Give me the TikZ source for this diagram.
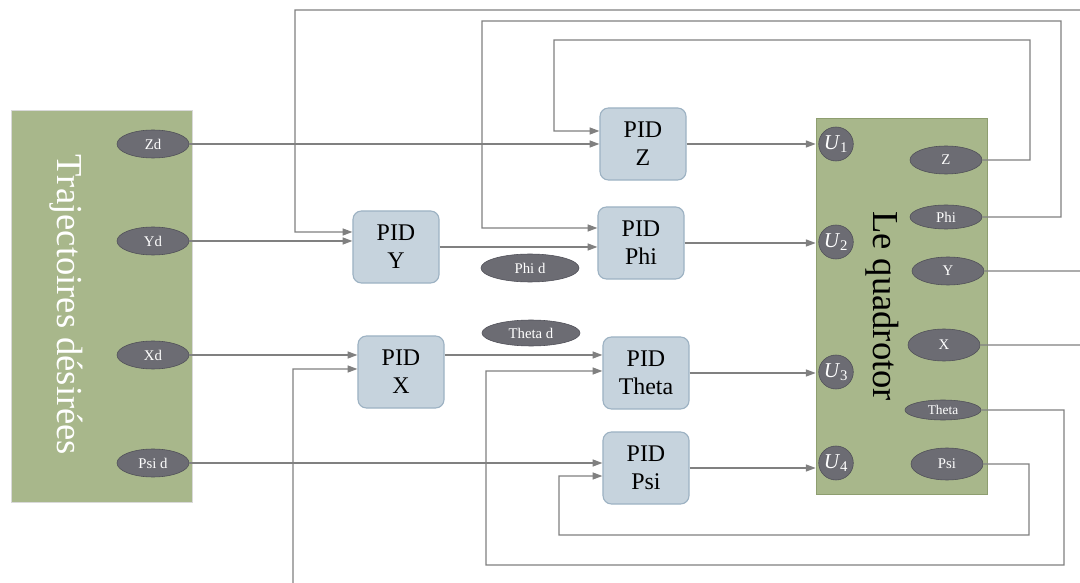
\documentclass[tikz,border=0pt]{standalone}
\usepackage{fontspec}
\setmainfont{Liberation Serif}
\usetikzlibrary{shapes.geometric,arrows.meta}

\definecolor{panelgreen}{HTML}{A8B78B}
\definecolor{quadedge}{HTML}{8E9E70}
\definecolor{sigfill}{HTML}{6C6C73}
\definecolor{sigedge}{HTML}{4F4F57}
\definecolor{pidfill}{HTML}{C6D3DD}
\definecolor{pidedge}{HTML}{9DB2C3}
\definecolor{wirec}{HTML}{808080}

\begin{document}
\begin{tikzpicture}[x=0.025cm,y=-0.025cm,
  sig/.style={ellipse,draw=sigedge,fill=sigfill,text=white,inner sep=0pt,
    minimum width=1.8cm,minimum height=0.7cm,font=\fontsize{10.5}{12}\selectfont},
  unode/.style={ellipse,draw=sigedge,fill=sigfill,text=white,inner sep=0pt,
    minimum width=0.65cm,minimum height=0.85cm,font=\fontsize{15}{16}\selectfont},
  pidbox/.style={draw=pidedge,fill=pidfill,rounded corners=6pt,line width=0.8pt,
    minimum width=2.15cm,minimum height=1.8cm,align=center,inner sep=0pt,
    font=\fontsize{17}{20}\selectfont},
  wire/.style={draw=wirec,line width=1pt},
  tip/.style={-{Triangle[length=7pt,width=5pt]}}]
  \useasboundingbox (0,0) rectangle (1080,583);
  \clip (0,0) rectangle (1080,583);

  % panels
  \node[draw=black!15,fill=panelgreen,minimum width=4.525cm,minimum height=9.8cm] (traj) at (101.5,306) {};
  \node[rotate=-90,text=white,font=\fontsize{26}{28}\selectfont] at (66,305) {Trajectoires désirées};
  \node[draw=quadedge,fill=panelgreen,minimum width=4.275cm,minimum height=9.4cm] (quad) at (901.5,306) {};
  \node[rotate=-90,font=\fontsize{26}{28}\selectfont] at (882,306) {Le quadrotor};

  % references
  \foreach \nm/\y/\txt in {zd/144/Zd,yd/241/Yd,xd/355/Xd,psid/463/Psi d}{
    \node[sig] (\nm) at (153,\y) {\txt};
  }
  \node[sig,minimum width=2.45cm] (phid) at (530,268) {Phi d};
  \node[sig,minimum width=2.45cm,minimum height=0.65cm] (thetad) at (531,333) {Theta d};

  % controllers
  \foreach \nm/\x/\y/\lbl in {pidz/643/144/Z,pidy/396/247/Y,pidphi/641/243/Phi,
    pidx/401/372/X,pidtheta/646/373/Theta,pidpsi/646/468/Psi}{
    \node[pidbox] (\nm) at (\x,\y) {PID\\\lbl};
  }

  % quadrotor inputs and outputs
  \foreach \i/\y in {1/144,2/242,3/372,4/463}{
    \node[unode] (u\i) at (836,\y) {\textit{U}\textsubscript{\i}};
  }
  \node[sig] (zout) at (946,160) {Z};
  \node[sig,minimum height=0.6cm] (phiout) at (946,217) {Phi};
  \node[sig] (yout) at (948,271) {Y};
  \node[sig,minimum height=0.8cm] (xout) at (944,345) {X};
  \node[sig,minimum width=1.9cm,minimum height=0.5cm,font=\fontsize{9.5}{11}\selectfont] (thetaout) at (943,410) {Theta};
  \node[sig,minimum height=0.8cm] (psiout) at (947,464) {Psi};

  % forward paths
  \draw[wire,tip] (zd.east) -- (zd -| pidz.west);
  \draw[wire,tip] (yd.east) -- (yd -| pidy.west);
  \draw[wire,tip] (xd.east) -- (xd -| pidx.west);
  \draw[wire,tip] (psid.east) -- (psid -| pidpsi.west);
  \draw[wire,tip] (pidy.east) -- (pidy.east -| pidphi.west);
  \draw[wire,tip] (xd -| pidx.east) -- (xd -| pidtheta.west);
  \foreach \c/\u in {pidz/u1,pidphi/u2,pidtheta/u3,pidpsi/u4}{
    \draw[wire,tip] (\c.east) -- (\c.east -| quad.west);
  }

  % feedback loops
  \draw[wire,tip] (zout.east) -| (1030,40) -| (554,131) -- ([yshift=0.325cm]pidz.west);
  \draw[wire,tip] (phiout.east) -| (1061,21) -| (482,228) -- ([yshift=0.375cm]pidphi.west);
  \draw[wire,tip] (yout.east) -- (1100,271) -- (1100,10) -| (295,232) -- ([yshift=0.375cm]pidy.west);
  \draw[wire,tip] (xout.east) -- (1100,345) -- (1100,600) -| (293,369) -- ([yshift=0.075cm]pidx.west);
  \draw[wire,tip] (thetaout.east) -| (1064,565) -| (486,371) -- ([yshift=0.05cm]pidtheta.west);
  \draw[wire,tip] (psiout.east) -| (1029,535) -| (559,476) -- ([yshift=-0.2cm]pidpsi.west);
\end{tikzpicture}
\end{document}
